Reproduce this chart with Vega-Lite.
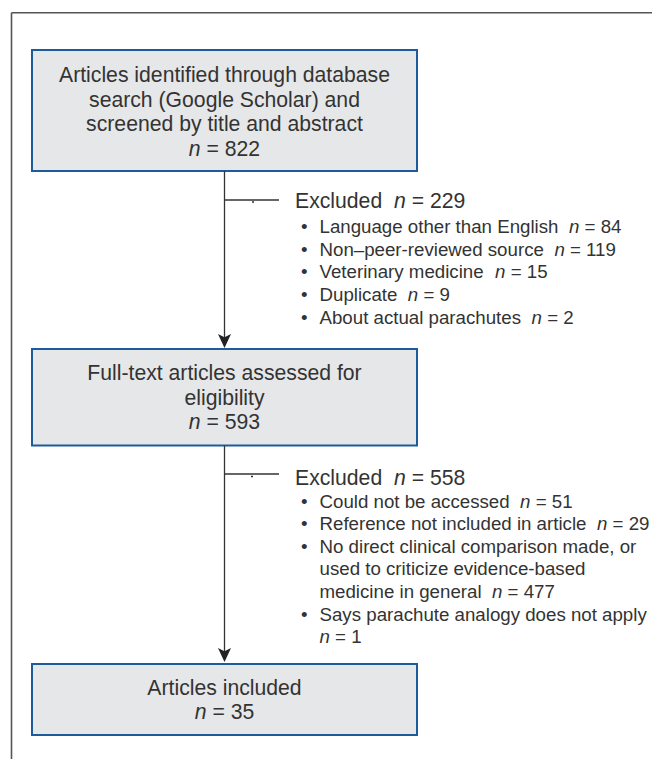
{
  "$schema": "https://vega.github.io/schema/vega-lite/v6.json",
  "width": 652,
  "height": 759,
  "padding": 0,
  "autosize": {"type": "none"},
  "background": "white",
  "config": {"view": {"stroke": null}},
  "datasets": {
    "frame": [
      {"x": 11.5, "y": 12.7, "x2": 652, "y2": 12.7},
      {"x": 11.5, "y": 12.7, "x2": 11.5, "y2": 759}
    ],
    "connectors": [
      {"x": 224.5, "y": 171, "x2": 224.5, "y2": 341},
      {"x": 224.5, "y": 200, "x2": 279, "y2": 200},
      {"x": 224.5, "y": 445.5, "x2": 224.5, "y2": 655},
      {"x": 224.5, "y": 474, "x2": 279, "y2": 474}
    ],
    "arrows": [
      {"x": 224.5, "y": 341},
      {"x": 224.5, "y": 655}
    ],
    "specks": [
      {"x": 253, "y": 202},
      {"x": 252, "y": 476.5}
    ],
    "boxes": [
      {"stage": "Identified", "x": 32, "x2": 417, "y": 50, "y2": 171},
      {"stage": "Assessed", "x": 32, "x2": 417, "y": 349, "y2": 445.5},
      {"stage": "Included", "x": 32, "x2": 417, "y": 664, "y2": 735}
    ],
    "texts": [
      {"k": "bigc", "x": 224.5, "y": 81.7, "t": "Articles identified through database"},
      {"k": "bigc", "x": 224.5, "y": 106.5, "t": "search (Google Scholar) and"},
      {"k": "bigc", "x": 224.5, "y": 131.3, "t": "screened by title and abstract"},
      {"k": "bign", "x": 188.7, "y": 156, "t": "n"},
      {"k": "big", "x": 206.4, "y": 156, "t": "= 822"},
      {"k": "bigc", "x": 224.5, "y": 379.7, "t": "Full-text articles assessed for"},
      {"k": "bigc", "x": 224.5, "y": 404.5, "t": "eligibility"},
      {"k": "bign", "x": 188.7, "y": 429.3, "t": "n"},
      {"k": "big", "x": 206.4, "y": 429.3, "t": "= 593"},
      {"k": "bigc", "x": 224.5, "y": 694.5, "t": "Articles included"},
      {"k": "bign", "x": 194.7, "y": 719, "t": "n"},
      {"k": "big", "x": 212.4, "y": 719, "t": "= 35"},

      {"k": "big", "x": 295, "y": 208.3, "t": "Excluded"},
      {"k": "bign", "x": 394, "y": 208.3, "t": "n"},
      {"k": "big", "x": 411.7, "y": 208.3, "t": "= 229"},
      {"k": "small", "x": 301, "y": 232.7, "t": "•"},
      {"k": "small", "x": 319.5, "y": 232.7, "t": "Language other than English"},
      {"k": "smalln", "x": 569, "y": 232.7, "t": "n"},
      {"k": "small", "x": 584.6, "y": 232.7, "t": "= 84"},
      {"k": "small", "x": 301, "y": 255.5, "t": "•"},
      {"k": "small", "x": 319.5, "y": 255.5, "t": "Non–peer-reviewed source"},
      {"k": "smalln", "x": 554.4, "y": 255.5, "t": "n"},
      {"k": "small", "x": 570, "y": 255.5, "t": "= 119"},
      {"k": "small", "x": 301, "y": 278.2, "t": "•"},
      {"k": "small", "x": 319.5, "y": 278.2, "t": "Veterinary medicine"},
      {"k": "smalln", "x": 495.1, "y": 278.2, "t": "n"},
      {"k": "small", "x": 510.7, "y": 278.2, "t": "= 15"},
      {"k": "small", "x": 301, "y": 300.9, "t": "•"},
      {"k": "small", "x": 319.5, "y": 300.9, "t": "Duplicate"},
      {"k": "smalln", "x": 407.8, "y": 300.9, "t": "n"},
      {"k": "small", "x": 423.4, "y": 300.9, "t": "= 9"},
      {"k": "small", "x": 301, "y": 323.6, "t": "•"},
      {"k": "small", "x": 319.5, "y": 323.6, "t": "About actual parachutes"},
      {"k": "smalln", "x": 531.6, "y": 323.6, "t": "n"},
      {"k": "small", "x": 547.2, "y": 323.6, "t": "= 2"},

      {"k": "big", "x": 295, "y": 485, "t": "Excluded"},
      {"k": "bign", "x": 394, "y": 485, "t": "n"},
      {"k": "big", "x": 411.7, "y": 485, "t": "= 558"},
      {"k": "small", "x": 301, "y": 507.5, "t": "•"},
      {"k": "small", "x": 319.5, "y": 507.5, "t": "Could not be accessed"},
      {"k": "smalln", "x": 520.1, "y": 507.5, "t": "n"},
      {"k": "small", "x": 535.7, "y": 507.5, "t": "= 51"},
      {"k": "small", "x": 301, "y": 530.2, "t": "•"},
      {"k": "small", "x": 319.5, "y": 530.2, "t": "Reference not included in article"},
      {"k": "smalln", "x": 597, "y": 530.2, "t": "n"},
      {"k": "small", "x": 612.6, "y": 530.2, "t": "= 29"},
      {"k": "small", "x": 301, "y": 552.8, "t": "•"},
      {"k": "small", "x": 319.5, "y": 552.8, "t": "No direct clinical comparison made, or"},
      {"k": "small", "x": 319.5, "y": 575.4, "t": "used to criticize evidence-based"},
      {"k": "small", "x": 319.5, "y": 598, "t": "medicine in general"},
      {"k": "smalln", "x": 492, "y": 598, "t": "n"},
      {"k": "small", "x": 507.6, "y": 598, "t": "= 477"},
      {"k": "small", "x": 301, "y": 620.6, "t": "•"},
      {"k": "small", "x": 319.5, "y": 620.6, "t": "Says parachute analogy does not apply"},
      {"k": "smalln", "x": 319.5, "y": 643.2, "t": "n"},
      {"k": "small", "x": 335.1, "y": 643.2, "t": "= 1"}
    ]
  },
  "layer": [
    {
      "data": {"name": "frame"},
      "mark": {"type": "rule", "color": "#555555", "strokeWidth": 1.6},
      "encoding": {
        "x": {"field": "x", "type": "quantitative", "scale": {"domain": [0, 652], "range": [0, 652], "nice": false, "zero": false}, "axis": null},
        "y": {"field": "y", "type": "quantitative", "scale": {"domain": [0, 759], "range": [0, 759], "nice": false, "zero": false}, "axis": null},
        "x2": {"field": "x2"},
        "y2": {"field": "y2"}
      }
    },
    {
      "data": {"name": "boxes"},
      "mark": {"type": "rect", "fill": "#e6e7e8", "stroke": "#1d5c9b", "strokeWidth": 2},
      "encoding": {
        "x": {"field": "x", "type": "quantitative", "scale": {"domain": [0, 652], "range": [0, 652], "nice": false, "zero": false}, "axis": null},
        "y": {"field": "y", "type": "quantitative", "scale": {"domain": [0, 759], "range": [0, 759], "nice": false, "zero": false}, "axis": null},
        "x2": {"field": "x2"},
        "y2": {"field": "y2"}
      }
    },
    {
      "data": {"name": "connectors"},
      "mark": {"type": "rule", "color": "#333333", "strokeWidth": 1.3},
      "encoding": {
        "x": {"field": "x", "type": "quantitative", "scale": {"domain": [0, 652], "range": [0, 652], "nice": false, "zero": false}, "axis": null},
        "y": {"field": "y", "type": "quantitative", "scale": {"domain": [0, 759], "range": [0, 759], "nice": false, "zero": false}, "axis": null},
        "x2": {"field": "x2"},
        "y2": {"field": "y2"}
      }
    },
    {
      "data": {"name": "arrows"},
      "mark": {"type": "point", "shape": "M-0.93,-1L0,-0.55L0.93,-1L0,1Z", "size": 196, "filled": true, "color": "#222222", "opacity": 1, "strokeWidth": 0},
      "encoding": {
        "x": {"field": "x", "type": "quantitative", "scale": {"domain": [0, 652], "range": [0, 652], "nice": false, "zero": false}, "axis": null},
        "y": {"field": "y", "type": "quantitative", "scale": {"domain": [0, 759], "range": [0, 759], "nice": false, "zero": false}, "axis": null}
      }
    },
    {
      "data": {"name": "specks"},
      "mark": {"type": "square", "size": 3, "color": "#111111", "opacity": 1},
      "encoding": {
        "x": {"field": "x", "type": "quantitative", "scale": {"domain": [0, 652], "range": [0, 652], "nice": false, "zero": false}, "axis": null},
        "y": {"field": "y", "type": "quantitative", "scale": {"domain": [0, 759], "range": [0, 759], "nice": false, "zero": false}, "axis": null}
      }
    },
    {
      "data": {"name": "texts"},
      "transform": [{"filter": "datum.k === 'bigc'"}],
      "mark": {"type": "text", "align": "center", "baseline": "alphabetic", "font": "Liberation Sans", "fontSize": 21.2, "color": "#333333"},
      "encoding": {
        "x": {"field": "x", "type": "quantitative", "scale": {"domain": [0, 652], "range": [0, 652], "nice": false, "zero": false}, "axis": null},
        "y": {"field": "y", "type": "quantitative", "scale": {"domain": [0, 759], "range": [0, 759], "nice": false, "zero": false}, "axis": null},
        "text": {"field": "t"}
      }
    },
    {
      "data": {"name": "texts"},
      "transform": [{"filter": "datum.k === 'big'"}],
      "mark": {"type": "text", "align": "left", "baseline": "alphabetic", "font": "Liberation Sans", "fontSize": 21.2, "color": "#333333"},
      "encoding": {
        "x": {"field": "x", "type": "quantitative", "scale": {"domain": [0, 652], "range": [0, 652], "nice": false, "zero": false}, "axis": null},
        "y": {"field": "y", "type": "quantitative", "scale": {"domain": [0, 759], "range": [0, 759], "nice": false, "zero": false}, "axis": null},
        "text": {"field": "t"}
      }
    },
    {
      "data": {"name": "texts"},
      "transform": [{"filter": "datum.k === 'bign'"}],
      "mark": {"type": "text", "align": "left", "baseline": "alphabetic", "font": "Liberation Sans", "fontSize": 21.2, "fontStyle": "italic", "color": "#333333"},
      "encoding": {
        "x": {"field": "x", "type": "quantitative", "scale": {"domain": [0, 652], "range": [0, 652], "nice": false, "zero": false}, "axis": null},
        "y": {"field": "y", "type": "quantitative", "scale": {"domain": [0, 759], "range": [0, 759], "nice": false, "zero": false}, "axis": null},
        "text": {"field": "t"}
      }
    },
    {
      "data": {"name": "texts"},
      "transform": [{"filter": "datum.k === 'small'"}],
      "mark": {"type": "text", "align": "left", "baseline": "alphabetic", "font": "Liberation Sans", "fontSize": 18.7, "color": "#333333"},
      "encoding": {
        "x": {"field": "x", "type": "quantitative", "scale": {"domain": [0, 652], "range": [0, 652], "nice": false, "zero": false}, "axis": null},
        "y": {"field": "y", "type": "quantitative", "scale": {"domain": [0, 759], "range": [0, 759], "nice": false, "zero": false}, "axis": null},
        "text": {"field": "t"}
      }
    },
    {
      "data": {"name": "texts"},
      "transform": [{"filter": "datum.k === 'smalln'"}],
      "mark": {"type": "text", "align": "left", "baseline": "alphabetic", "font": "Liberation Sans", "fontSize": 18.7, "fontStyle": "italic", "color": "#333333"},
      "encoding": {
        "x": {"field": "x", "type": "quantitative", "scale": {"domain": [0, 652], "range": [0, 652], "nice": false, "zero": false}, "axis": null},
        "y": {"field": "y", "type": "quantitative", "scale": {"domain": [0, 759], "range": [0, 759], "nice": false, "zero": false}, "axis": null},
        "text": {"field": "t"}
      }
    }
  ]
}
